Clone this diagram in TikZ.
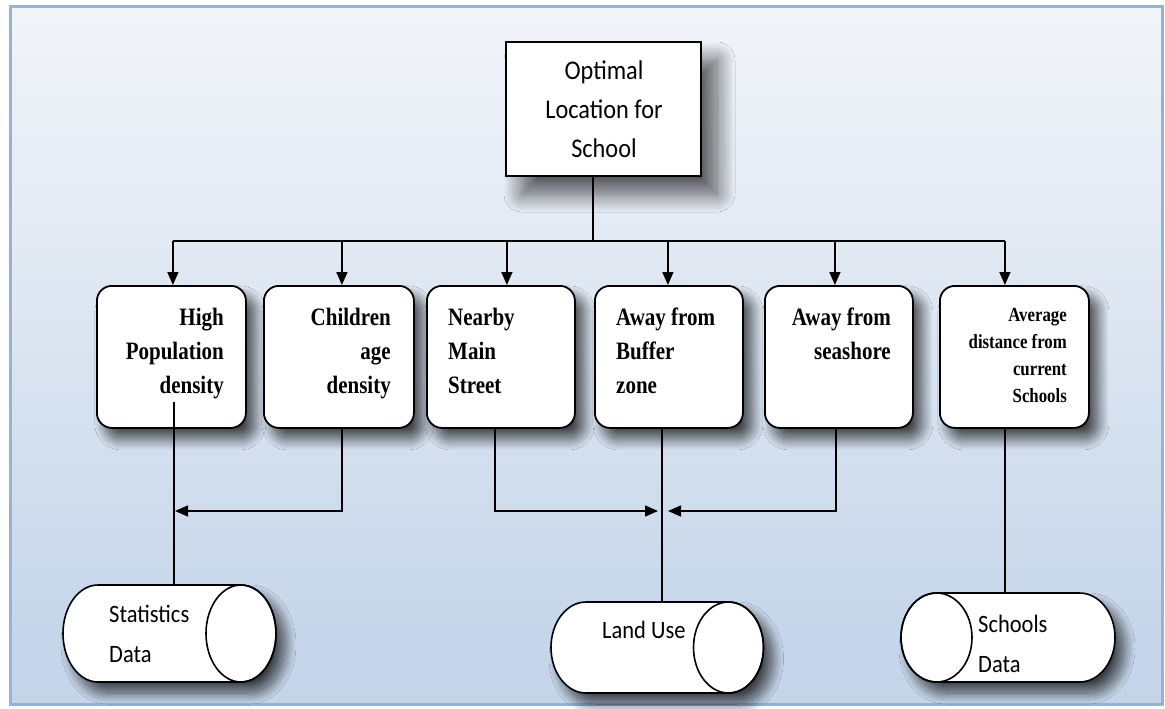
\documentclass[tikz,border=0pt]{standalone}
\usepackage{fontspec}
% narrowed faces: the lettering is taller than it is wide
\newfontfamily\calfont{Carlito}[FakeStretch=0.9]
\newfontfamily\serfont{Liberation Serif}[FakeStretch=0.84]
\usetikzlibrary{arrows.meta,shadows.blur,calc}

\definecolor{framecol}{HTML}{95B3D7}
\definecolor{bgbottom}{HTML}{B9CDE5}
\definecolor{bgmid}{HTML}{C6D6EA}
\definecolor{bgupper}{HTML}{E4EBF4}
\definecolor{bgtop}{HTML}{FAFBFD}

% background: white at the top fading into pale blue at the bottom
\pgfdeclareverticalshading{panelshade}{100bp}{%
  color(0bp)=(bgbottom); color(30bp)=(bgmid); color(60bp)=(bgupper);
  color(85bp)=(bgtop); color(100bp)=(white)}

\tikzset{
  conn/.style={draw=black, line width=1.5pt},
  arr/.style={conn, -{Triangle[length=13pt,width=11pt]}},
  softshadow/.style={blur shadow={shadow xshift=9pt, shadow yshift=-11pt,
      shadow blur radius=11pt, shadow opacity=70, shadow blur steps=20}},
  goalbox/.style={draw, line width=1.8pt, fill=white, inner sep=0pt,
      minimum width=195pt, minimum height=134pt,
      blur shadow={shadow xshift=16pt, shadow yshift=-18pt,
      shadow blur radius=18pt, shadow opacity=65, shadow blur steps=24}},
  critbox/.style={draw, line width=1.8pt, fill=white, rounded corners=15pt,
      inner sep=0pt, minimum height=142pt, anchor=north west, softshadow},
  crittext/.style={inner sep=0pt, font=\serfont\bfseries\fontsize{25}{34}\selectfont},
  smalltext/.style={inner sep=0pt, font=\serfont\bfseries\fontsize{20}{27}\selectfont},
  caltext/.style={inner sep=0pt, font=\calfont\fontsize{25}{40}\selectfont},
  cylpath/.style={draw, line width=1.6pt, fill=white, softshadow},
  cylarea/.style={inner sep=0pt, draw=none},
}

% horizontal drum: left arc centre, right arc centre, centre y, x radius, y radius
\newcommand\drumbody[5]{%
  \path[cylpath] (#2,#3-#5) -- (#1,#3-#5)
    arc[start angle=90, end angle=270, x radius=#4pt, y radius=#5pt]
    -- (#2,#3+#5)
    arc[start angle=-90, end angle=90, x radius=#4pt, y radius=#5pt] -- cycle;}
\newcommand\drumface[4]{%
  \draw[line width=1.6pt] (#1,#2) ellipse[x radius=#3pt, y radius=#4pt];}

\begin{document}
\begin{tikzpicture}[x=1pt,y=-1pt]
\useasboundingbox (0,0) rectangle (1165,709);

% panel
\path[shading=panelshade] (10,7) rectangle (1162,704);
\draw[framecol, line width=3pt] (10,7) rectangle (1162,704);

% goal
\node[goalbox] (goal) at (603.5,109) {};
\node[caltext, font=\calfont\fontsize{27}{39}\selectfont, align=center, anchor=north]
  (goaltxt) at (604,61) {Optimal\\Location for\\School};

% criteria
\node[critbox, minimum width=149pt] (b1) at (96,285) {};
\node[critbox, minimum width=150pt] (b2) at (263,285) {};
\node[critbox, minimum width=148pt] (b3) at (426,285) {};
\node[critbox, minimum width=148pt] (b4) at (594,285) {};
\node[critbox, minimum width=148pt] (b5) at (764,285) {};
\node[critbox, minimum width=149pt] (b6) at (939,285) {};

\node[crittext, align=right, anchor=north east] (t1) at (224,308) {High\\Population\\density};
\node[crittext, align=right, anchor=north east] (t2) at (391,308) {Children\\age\\density};
\node[crittext, align=left, anchor=north west] (t3) at (448,308) {Nearby\\Main\\Street};
\node[crittext, align=left, anchor=north west] (t4) at (616,308) {Away from\\Buffer\\zone};
\node[crittext, align=right, anchor=north east] (t5) at (891,308) {Away from\\seashore};
\node[smalltext, align=right, anchor=north east] (t6) at (1067,308) {Average\\distance from\\current\\Schools};

% data sources
\drumbody{98}{241}{633.5}{35}{48.5}
\drumface{241}{633.5}{35}{48.5}
\node[cylarea, minimum width=213pt, minimum height=97pt] (stat) at (169.5,633.5) {};
\node[caltext, align=left, anchor=north west] (stattxt) at (109,605.5) {Statistics\\Data};

\drumbody{586}{728.5}{647.5}{35}{45.5}
\drumface{728.5}{647.5}{35}{45.5}
\node[cylarea, minimum width=213pt, minimum height=91pt] (land) at (657.5,647.5) {};
\node[caltext, anchor=north west] (landtxt) at (602,620.5) {Land Use};

\drumbody{936.5}{1079.5}{637.5}{35.5}{44.5}
\drumface{936.5}{637.5}{35.5}{44.5}
\node[cylarea, minimum width=214pt, minimum height=89pt] (school) at (1008,637.5) {};
\node[caltext, align=left, anchor=north west] (schooltxt) at (978,614.5) {Schools\\Data};

% goal to criteria
\coordinate (bus) at (593,241);
\draw[conn] ([xshift=-10.5pt]goal.south) -- (bus);
\draw[conn] ([xshift=1.5pt]b1.north |- bus) -- ([xshift=-9.5pt]b6.north |- bus);
\draw[arr] ([xshift=1.5pt]b1.north |- bus) -- ([xshift=1.5pt]b1.north);
\draw[arr] ([xshift=3pt]b2.north |- bus) -- ([xshift=3pt]b2.north);
\draw[arr] ([xshift=6pt]b3.north |- bus) -- ([xshift=6pt]b3.north);
\draw[arr] ([xshift=-1pt]b4.north |- bus) -- ([xshift=-1pt]b4.north);
\draw[arr] ([xshift=-4pt]b5.north |- bus) -- ([xshift=-4pt]b5.north);
\draw[arr] ([xshift=-9.5pt]b6.north |- bus) -- ([xshift=-9.5pt]b6.north);

% criteria to data sources
\coordinate (p1) at (174,402);
\coordinate (j1) at (174,511);
\coordinate (j2) at (661,511);
\draw[conn] (p1) -- (p1 |- stat.north);
\draw[arr] ([xshift=3pt]b2.south) |- ([xshift=1pt]j1);
\draw[arr] ([xshift=-6pt]b3.south) |- ([xshift=-3pt]j2);
\draw[conn] ([xshift=-7pt]b4.south) -- ([xshift=-7pt]b4.south |- land.north);
\draw[arr] ([xshift=-3pt]b5.south) |- ([xshift=7pt]j2);
\draw[conn] ([xshift=-9.5pt]b6.south) -- ([xshift=-9.5pt]b6.south |- school.north);
\end{tikzpicture}
\end{document}
